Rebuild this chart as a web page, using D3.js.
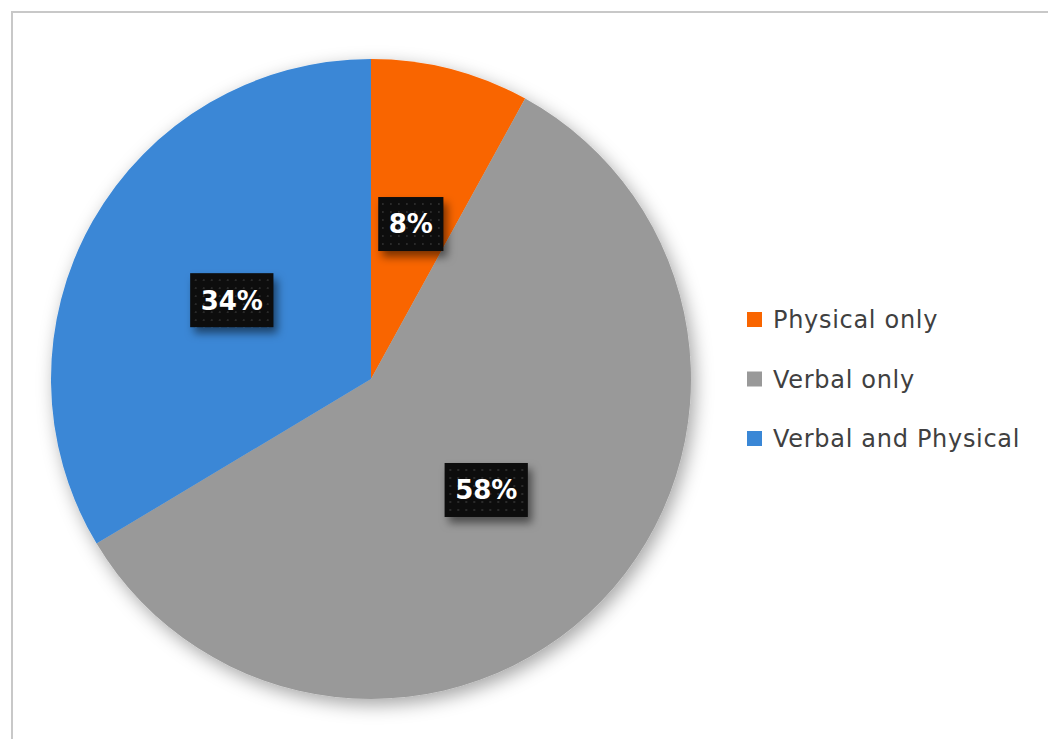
<!DOCTYPE html>
<html>
<head>
<meta charset="utf-8">
<script src="https://cdn.jsdelivr.net/npm/d3@7"></script>
<style>
  body { margin: 0; background: white; }
  svg { display: block; }
</style>
</head>
<body>
<svg></svg>
<script>
var w = 1048
var h = 739

// data
var categories = ["Physical only", "Verbal only", "Verbal and Physical"]
var values = [8.0, 58.4, 33.6]
var labels = ["8%", "58%", "34%"]
var colors = ["#f96500", "#999999", "#3a87d6"]

var cx = 371, cy = 379, rad = 320

var svg = d3.select("svg")
  .attr("width", w)
  .attr("height", h)

var defs = svg.append("defs")

var pieShadow = defs.append("filter")
  .attr("id", "pieShadow")
  .attr("x", "-20%").attr("y", "-20%")
  .attr("width", "140%").attr("height", "140%")
pieShadow.append("feDropShadow")
  .attr("dx", 4).attr("dy", 6)
  .attr("stdDeviation", 9)
  .attr("flood-color", "#000")
  .attr("flood-opacity", 0.35)

var boxShadow = defs.append("filter")
  .attr("id", "boxShadow")
  .attr("x", "-40%").attr("y", "-40%")
  .attr("width", "180%").attr("height", "180%")
boxShadow.append("feDropShadow")
  .attr("dx", 4).attr("dy", 6)
  .attr("stdDeviation", 4)
  .attr("flood-color", "#000")
  .attr("flood-opacity", 0.5)

// dotted texture of the label boxes
var dots = defs.append("pattern")
  .attr("id", "dots")
  .attr("patternUnits", "userSpaceOnUse")
  .attr("width", 8).attr("height", 8)
dots.append("rect")
  .attr("width", 8).attr("height", 8)
  .attr("fill", "#0a0a0a")
dots.append("circle")
  .attr("cx", 4).attr("cy", 4).attr("r", 0.9)
  .attr("fill", "#3a3a3a")

// chart border
svg.append("rect")
  .attr("x", 12).attr("y", 12)
  .attr("width", w + 40).attr("height", h + 40)
  .attr("fill", "none")
  .attr("stroke", "#c8c8c8")
  .attr("stroke-width", 2)

var pie = d3.pie().sort(null).value(function(d) { return d })
var arcs = pie(values)

var arc = d3.arc().innerRadius(0).outerRadius(rad)
var labelArc = d3.arc().innerRadius(rad * 0.5).outerRadius(rad * 0.5)

var g = svg.append("g")
  .attr("transform", "translate(" + cx + "," + cy + ")")

g.append("g")
  .attr("filter", "url(#pieShadow)")
  .selectAll("path")
  .data(arcs)
  .enter().append("path")
  .attr("d", arc)
  .attr("fill", function(d, i) { return colors[i] })

var lab = g.selectAll(".lab")
  .data(arcs)
  .enter().append("g")
  .attr("class", "lab")
  .attr("transform", function(d) {
    var c = labelArc.centroid(d)
    return "translate(" + c[0] + "," + c[1] + ")"
  })

lab.each(function(d, i) {
  var sel = d3.select(this)
  var t = sel.append("text")
    .attr("text-anchor", "middle")
    .attr("dy", "0.36em")
    .attr("fill", "white")
    .style("font-family", "'DejaVu Sans', sans-serif")
    .style("font-weight", "bold")
    .style("font-size", "26px")
    .text(labels[i])
  var bw = t.node().getComputedTextLength() + 21
  var bh = 54
  sel.insert("rect", "text")
    .attr("x", -bw / 2).attr("y", -bh / 2)
    .attr("width", bw).attr("height", bh)
    .attr("fill", "url(#dots)")
    .attr("filter", "url(#boxShadow)")
})

// legend
var legend = svg.append("g")
  .attr("transform", "translate(747,320)")

var item = legend.selectAll(".item")
  .data(categories)
  .enter().append("g")
  .attr("class", "item")
  .attr("transform", function(d, i) { return "translate(0," + (i * 59.5) + ")" })

item.append("rect")
  .attr("x", 0).attr("y", -8)
  .attr("width", 15).attr("height", 15)
  .attr("fill", function(d, i) { return colors[i] })

item.append("text")
  .attr("x", 26)
  .attr("dy", "0.35em")
  .attr("fill", "#404040")
  .style("font-family", "'DejaVu Sans', sans-serif")
  .style("font-size", "24px")
  .style("letter-spacing", "0.7px")
  .text(function(d) { return d })
</script>
</body>
</html>
